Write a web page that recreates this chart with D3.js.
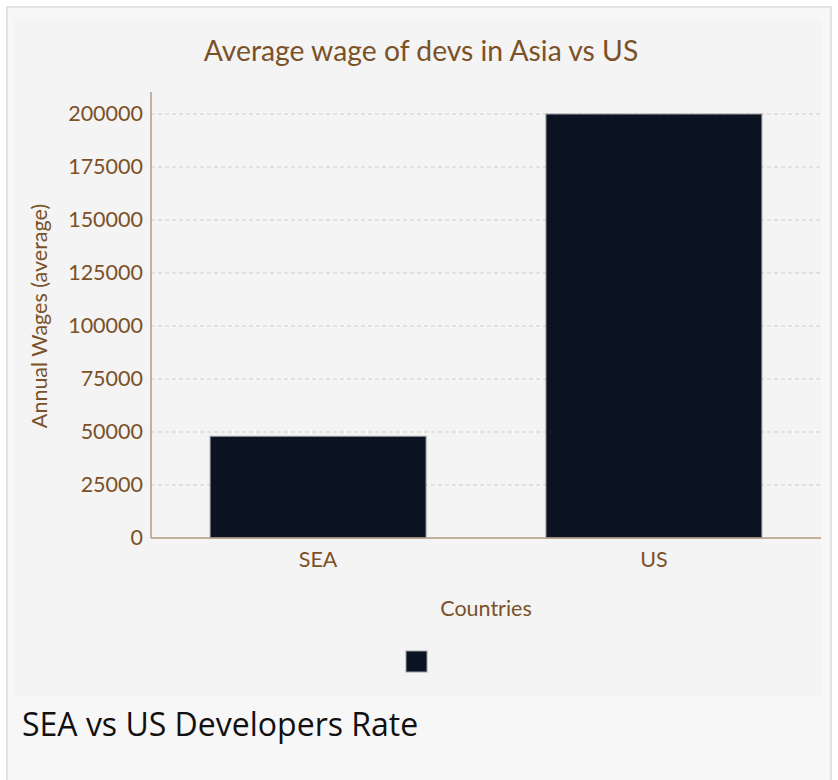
<!DOCTYPE html>
<html><head><meta charset="utf-8">
<script src="https://cdn.jsdelivr.net/npm/d3@7"></script>
<style>
html,body{margin:0;padding:0;background:#fff;}
#frame{position:absolute;left:6px;top:6px;width:826px;height:774px;box-sizing:border-box;border:2px solid #e2e2e2;border-bottom:none;background:#f7f7f7;}
#caption{position:absolute;left:22px;top:702px;font-family:"Open Sans",sans-serif;font-size:32px;line-height:44px;color:#111;}
svg{position:absolute;left:0;top:0;}
</style></head>
<body>
<div id="frame"></div>
<svg id="chart" width="838" height="780"></svg>
<div id="caption">SEA vs US Developers Rate</div>
<script>
const categories = ["SEA", "US"];
const wages = [48000, 200000];
const yTicks = [0, 25000, 50000, 75000, 100000, 125000, 150000, 175000, 200000];
const titleText = "Average wage of devs in Asia vs US";
const xTitle = "Countries";
const yTitle = "Annual Wages (average)";

const svg = d3.select("#chart");
const brown = "#7b5128";
const fs = "21.5px";
svg.append("rect").attr("x",13).attr("y",20).attr("width",808).attr("height",677).attr("fill","#f4f4f4");

const x = d3.scaleBand().domain(categories).range([151, 821]).paddingInner(0.357).paddingOuter(0.176);
const y = d3.scaleLinear().domain([0, 200000]).range([538, 114]);

// gridlines
svg.append("g").selectAll("line").data(yTicks.filter(d=>d>0)).join("line")
  .attr("x1",151).attr("x2",821).attr("y1",d=>y(d)).attr("y2",d=>y(d))
  .attr("stroke","#d6cbbf").attr("stroke-width",1).attr("stroke-dasharray","4,3");

// bars
svg.append("g").selectAll("rect").data(categories).join("rect")
  .attr("x",d=>x(d)).attr("width",x.bandwidth())
  .attr("y",(d,i)=>y(wages[i])).attr("height",(d,i)=>y(0)-y(wages[i]))
  .attr("fill","#0b1322").attr("stroke","#9aa0a8").attr("stroke-width",1);

// y axis
const yAxis = svg.append("g").attr("transform","translate(151,0)")
  .call(d3.axisLeft(y).tickValues(yTicks).tickSize(0).tickPadding(8).tickFormat(d3.format("d")));
yAxis.select(".domain").remove();
yAxis.selectAll("text").attr("fill",brown).style("font-family","Lato").style("font-size",fs);
svg.append("line").attr("x1",151).attr("x2",151).attr("y1",92).attr("y2",538).attr("stroke","#b39a83").attr("stroke-width",1.5);

// x axis
const xAxis = svg.append("g").attr("transform","translate(0,538)")
  .call(d3.axisBottom(x).tickSize(0).tickPadding(14));
xAxis.select(".domain").remove();
xAxis.selectAll("text").attr("fill",brown).style("font-family","Lato").style("font-size",fs);
svg.append("line").attr("x1",151).attr("x2",821).attr("y1",538).attr("y2",538).attr("stroke","#b39a83").attr("stroke-width",1.5);

// titles
svg.append("text").attr("x",421).attr("y",61).attr("text-anchor","middle")
  .attr("fill",brown).style("font-family","Lato").style("font-size","28.3px").text(titleText);
svg.append("text").attr("x",486).attr("y",616).attr("text-anchor","middle")
  .attr("fill",brown).style("font-family","Lato").style("font-size",fs).text(xTitle);
svg.append("text").attr("transform","translate(47,316) rotate(-90)").attr("text-anchor","middle")
  .attr("fill",brown).style("font-family","Lato").style("font-size",fs).text(yTitle);

// legend
svg.append("rect").attr("x",406).attr("y",651).attr("width",21).attr("height",21)
  .attr("fill","#0b1322").attr("stroke","#9aa0a8").attr("stroke-width",1);
</script>
</body></html>
